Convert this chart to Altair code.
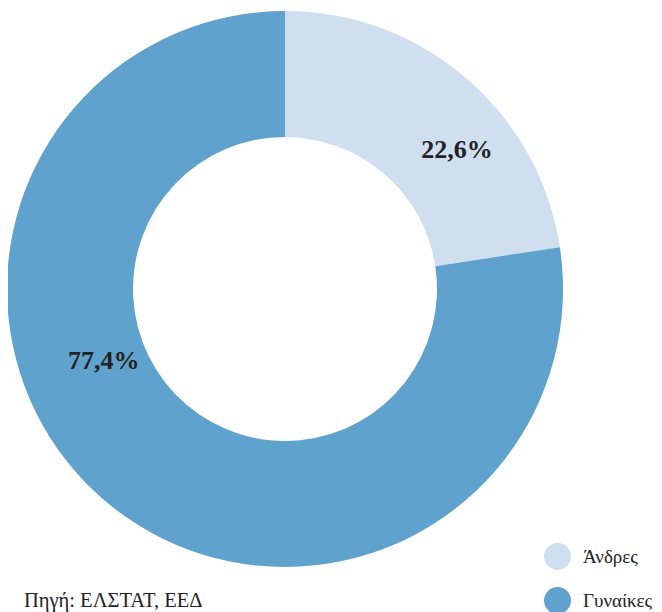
import altair as alt
import pandas as pd

categories = ["Άνδρες", "Γυναίκες"]
values = [22.6, 77.4]
labels = ["22,6%", "77,4%"]
colors = ["#cfdfef", "#5fa2cd"]
order = [1, 2]
source_text = ["Πηγή: ΕΛΣΤΑΤ, ΕΕΔ"]

df = pd.DataFrame({"cat": categories, "val": values, "lab": labels, "ord": order})

FONT = "Liberation Serif"
CX, CY = 277, 281
tscale = alt.Scale(domain=[0, 100])

arcs = alt.Chart(df).mark_arc(radius=278, radius2=152, stroke=None).encode(
    theta=alt.Theta("val:Q", stack=True, scale=tscale),
    order=alt.Order("ord:Q"),
    x=alt.value(CX), y=alt.value(CY),
    color=alt.Color(
        "cat:N",
        scale=alt.Scale(domain=categories, range=colors),
        legend=alt.Legend(
            title=None, orient="none", legendX=536, legendY=535,
            symbolType="circle", symbolSize=729, symbolStrokeWidth=0,
            labelFont=FONT, labelFontSize=19, labelColor="#222",
            rowPadding=17, labelOffset=12,
        ),
    ),
)

lab_base = alt.Chart(df).transform_window(
    cum="sum(val)", sort=[{"field": "ord"}]
).transform_calculate(mid="datum.cum - datum.val / 2")

def lab(o, r, dx, dy):
    return lab_base.transform_filter(alt.datum.ord == o).mark_text(
        radius=r, font=FONT, fontSize=26, fontWeight="bold", color="#222", dx=dx, dy=dy
    ).encode(
        theta=alt.Theta("mid:Q", scale=tscale),
        x=alt.value(CX), y=alt.value(CY), text="lab:N",
    )

t1 = lab(1, 210, 35, 20)
t2 = lab(2, 200, -51, -80)

src = alt.Chart(pd.DataFrame({"s": source_text})).mark_text(
    font=FONT, fontSize=20.5, color="#222", align="left", baseline="alphabetic"
).encode(x=alt.value(16), y=alt.value(599), text="s:N")

chart = alt.layer(arcs, t1, t2, src).properties(
    width=646, height=604, autosize=alt.AutoSizeParams(type="none"), padding=0
).configure_view(stroke=None)

chart.save("out.html", embed_options={"renderer": "svg", "actions": False})
